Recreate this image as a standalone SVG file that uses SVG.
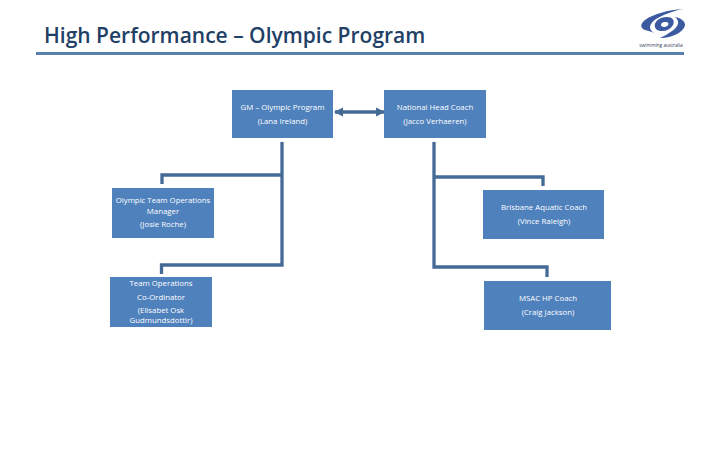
<svg xmlns="http://www.w3.org/2000/svg" width="720" height="450" viewBox="0 0 720 450">
<style>
text{font-family:"Open Sans","Noto Sans","Liberation Sans",sans-serif}
.box{fill:#4f81bd}
.lbl{font-size:7.8px;fill:#fff;text-anchor:middle}
.title{font-size:21px;font-weight:600;fill:#1f3f66}
.con{fill:none;stroke:#446a96;stroke-width:3.300}
.logo{fill:#3b5aa0}
</style>
<defs>
<marker id="a" viewBox="0 0 8 8" refX="7" refY="4" markerWidth="2.800" markerHeight="2.800" orient="auto-start-reverse"><path d="M0 0L8 4L0 8Z" fill="#446a96"/></marker>
</defs>
<rect width="720" height="450" fill="#fff"/>
<g id="header">
<text class="title" x="44" y="43">High Performance – Olympic Program</text>
<rect x="36" y="52" width="648" height="3" fill="#5b7fad"/>
</g>
<g id="logo">
<path class="logo" d="M683 9C668 10 653 14 645 20C640 24 640 28 645 30C649 31 652 32 654 33C648 29 649 24 656 19C663 15 673 11 683 9Z"/>
<path class="logo" d="M660 38C672 38 684 32 685 25C685 21 681 18 675 17C680 21 679 26 672 31C668 34 664 36 660 38Z"/>
<path class="logo" d="M661 18C670 15 676 19 673 25C670 31 660 33 656 29C653 25 656 20 661 18ZM664 22C660 23 660 27 664 27C669 27 670 22 666 22Z"/>
<text x="661" y="47" font-size="4.800" fill="#33415c" text-anchor="middle">swimming australia</text>
</g>
<g id="connectors">
<path class="con" d="M282 142V265H161.500V274"/>
<path class="con" d="M282 175H162V184"/>
<path class="con" d="M434 142V267H547V277"/>
<path class="con" d="M434 177H543V186"/>
<path class="con" marker-start="url(#a)" marker-end="url(#a)" d="M335 112H384"/>
</g>
<g id="gm">
<rect class="box" x="232" y="90" width="101" height="48"/>
<text class="lbl" x="282.500" y="110">GM – Olympic Program</text>
<text class="lbl" x="282.500" y="124">(Lana Ireland)</text>
</g>
<g id="head-coach">
<rect class="box" x="384" y="90" width="102" height="48"/>
<text class="lbl" x="435" y="110">National Head Coach</text>
<text class="lbl" x="435" y="124">(Jacco Verhaeren)</text>
</g>
<g id="ops-manager">
<rect class="box" x="112" y="188" width="102" height="50"/>
<text class="lbl" x="163" y="203">Olympic Team Operations</text>
<text class="lbl" x="163" y="214">Manager</text>
<text class="lbl" x="163" y="227">(Josie Roche)</text>
</g>
<g id="ops-coordinator">
<rect class="box" x="110" y="277" width="102" height="50"/>
<text class="lbl" x="161" y="286">Team Operations</text>
<text class="lbl" x="161" y="300">Co-Ordinator</text>
<text class="lbl" x="161" y="313">(Elisabet Osk</text>
<text class="lbl" x="161" y="323">Gudmundsdottir)</text>
</g>
<g id="brisbane">
<rect class="box" x="483" y="190" width="121" height="49"/>
<text class="lbl" x="544" y="210">Brisbane Aquatic Coach</text>
<text class="lbl" x="544" y="224">(Vince Raleigh)</text>
</g>
<g id="msac">
<rect class="box" x="484" y="281" width="127" height="49"/>
<text class="lbl" x="548" y="301">MSAC HP Coach</text>
<text class="lbl" x="548" y="315">(Craig Jackson)</text>
</g>
</svg>
